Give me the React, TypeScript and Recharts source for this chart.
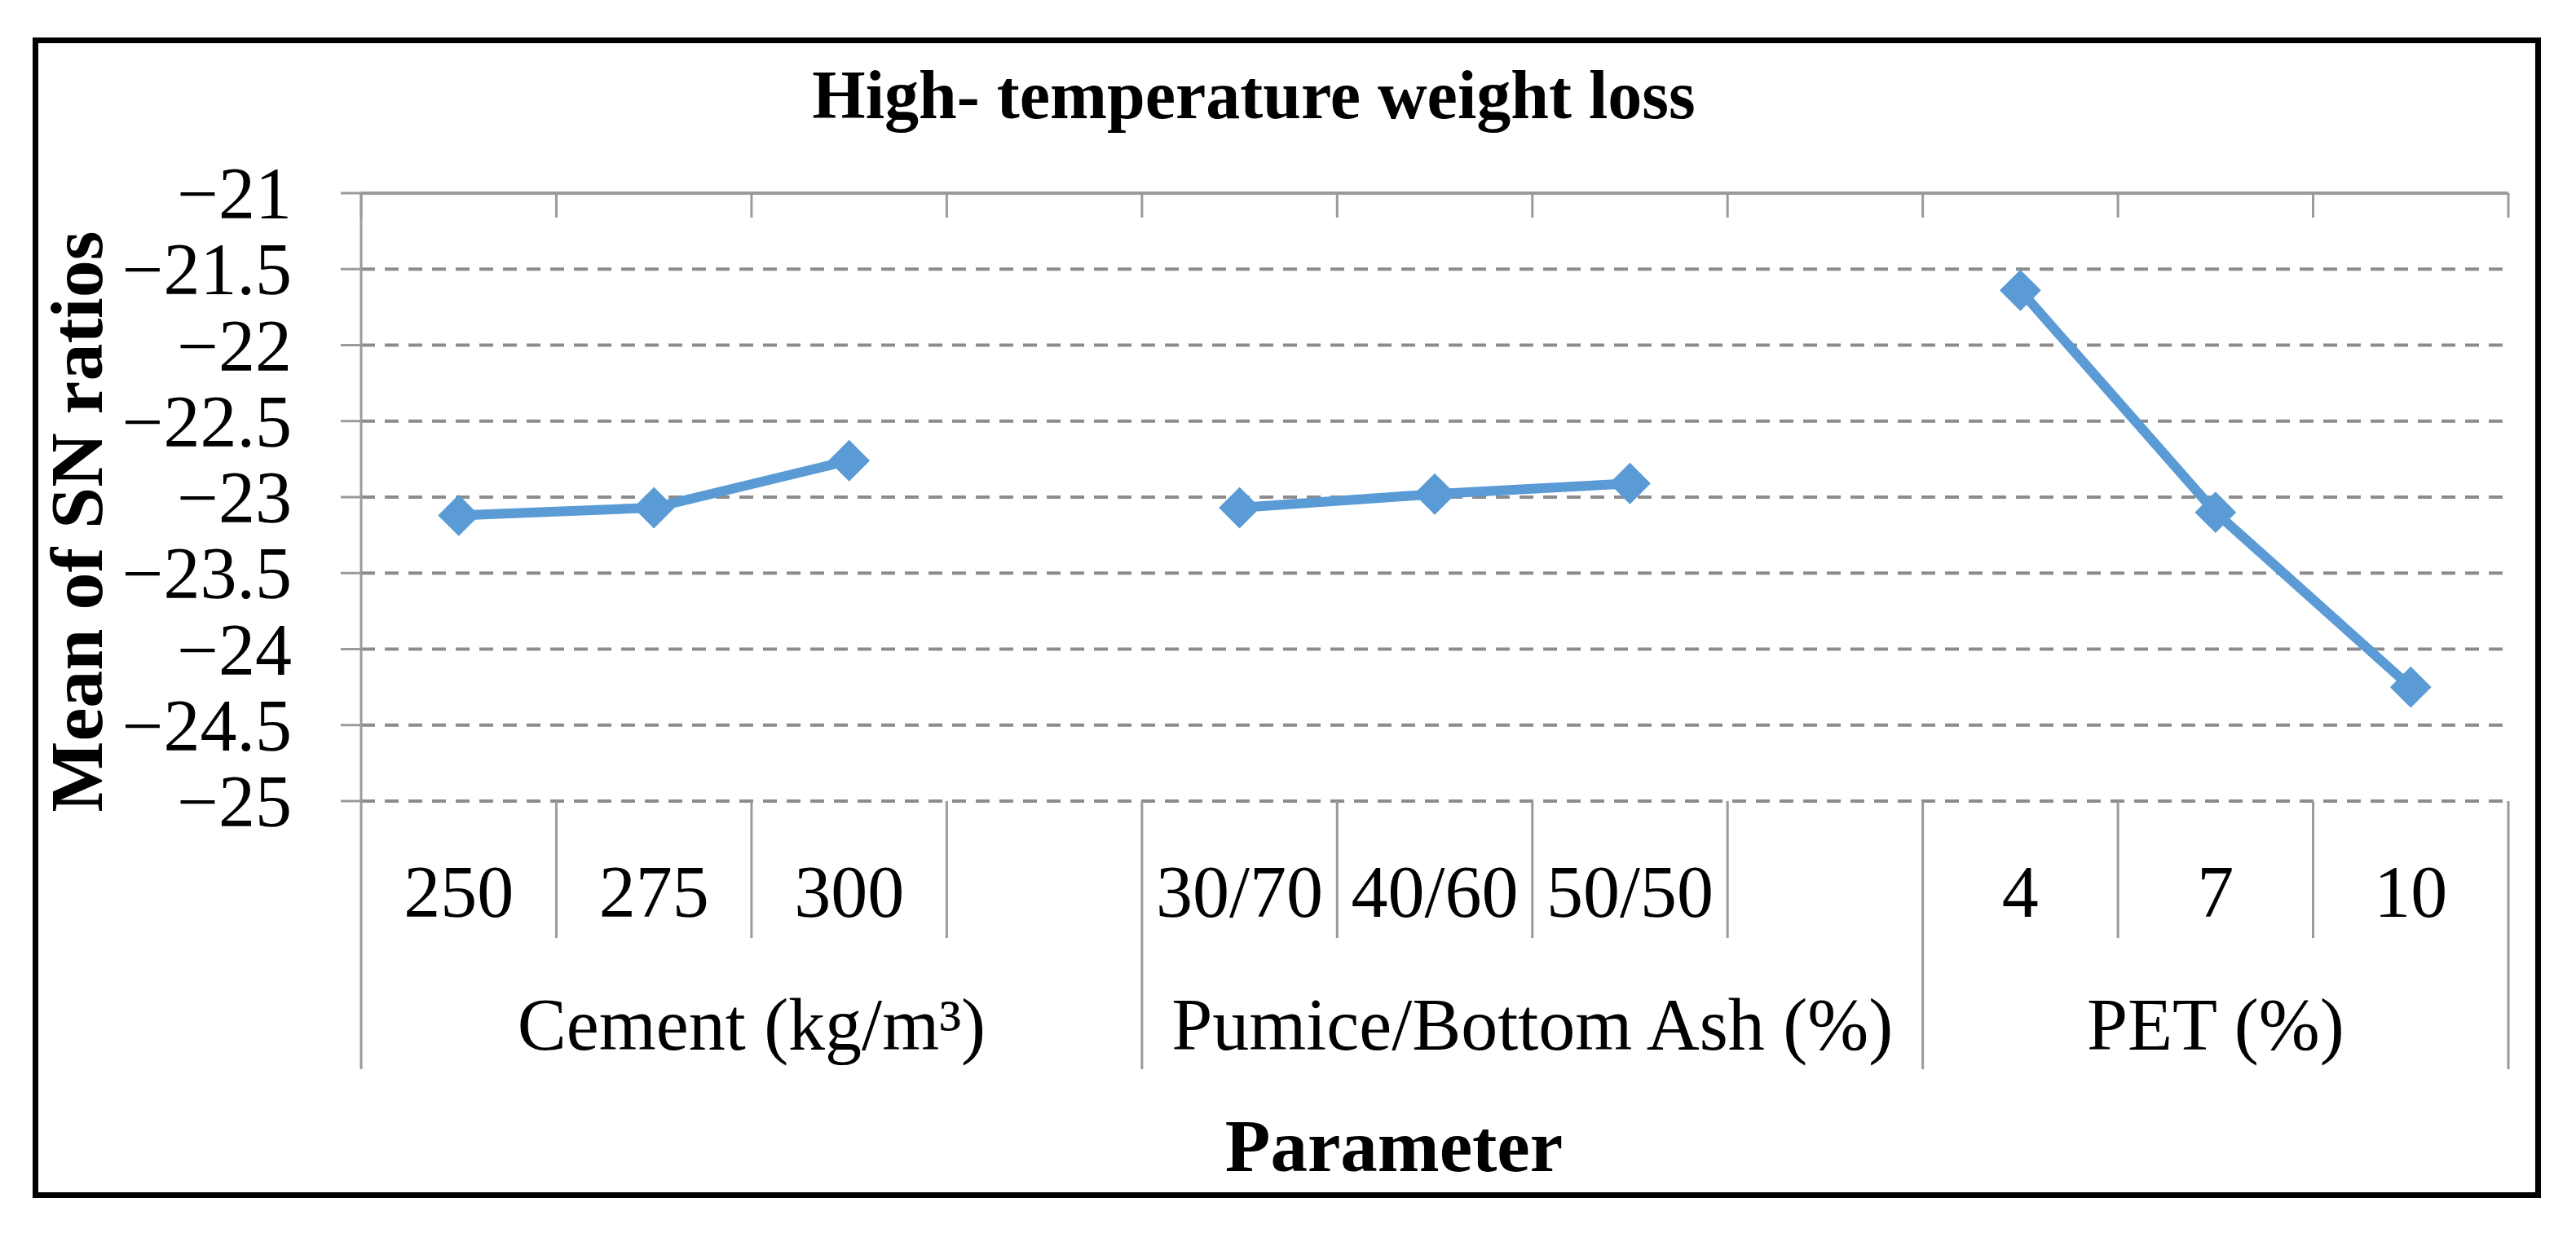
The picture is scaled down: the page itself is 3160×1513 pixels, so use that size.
import React from 'react';
import { LineChart, Line, XAxis, YAxis, CartesianGrid } from 'recharts';

const categories = ['250', '275', '300', '', '30/70', '40/60', '50/50', '', '4', '7', '10'];
const snMeans = [-23.12, -23.07, -22.76, null, -23.07, -22.98, -22.91, null, -21.64, -23.1, -24.25];
const groupNames = ['Cement (kg/m³)', 'Pumice/Bottom Ash (%)', 'PET (%)'];
const groupStarts = [0, 4, 8];
const groupEnds = [4, 8, 11];
const yTicks = [-25, -24.5, -24, -23.5, -23, -22.5, -22, -21.5, -21];

const FONT = '"Liberation Serif", "Times New Roman", serif';
const BLUE = '#5B9BD5';
const GRID = '#8C8C8C';
const AXIS = '#9A9A9A';

const data = categories.map((label, i) => ({ pos: i + 0.5, label, value: snMeans[i] }));
const boundaries = categories.map((_, i) => i).concat(categories.length);
const bottomTicks = boundaries
  .concat(categories.map((_, i) => i + 0.5))
  .sort((a, b) => a - b);

const fmt = (v: number) => (v < 0 ? '\u2212' : '') + Math.abs(v);

const YTick = ({ x, y, payload }: any) => (
  <text x={x} y={y} dy={31} textAnchor="end" fontFamily={FONT} fontSize={90} fill="#000">
    {fmt(payload.value)}
  </text>
);

// short marks hanging down from the top axis line
const TopTick = ({ x, y }: any) => (
  <line x1={x} x2={x} y1={y} y2={y + 30} stroke={AXIS} strokeWidth={3} />
);

const BottomTick = ({ x, y, payload }: any) => {
  const v = payload.value;
  const items: React.ReactNode[] = [];
  if (Number.isInteger(v)) {
    const long = groupStarts.includes(v) || groupEnds.includes(v);
    items.push(
      <line key="sep" x1={x} x2={x} y1={y} y2={y + (long ? 329 : 168)} stroke={AXIS} strokeWidth={3} />
    );
  } else {
    const label = categories[Math.floor(v)];
    if (label) {
      items.push(
        <text key="cat" x={x} y={y + 142} textAnchor="middle" fontFamily={FONT} fontSize={90} fill="#000">
          {label}
        </text>
      );
    }
  }
  const g = groupNames.findIndex((_, i) => (groupStarts[i] + groupEnds[i]) / 2 === v);
  if (g >= 0) {
    items.push(
      <text key="grp" x={x} y={y + 305} textAnchor="middle" fontFamily={FONT} fontSize={90} fill="#000">
        {groupNames[g]}
      </text>
    );
  }
  return <g>{items}</g>;
};

const Diamond = ({ cx, cy, value }: any) => {
  if (value == null || cx == null || cy == null) return null;
  const r = 24;
  return (
    <path
      d={`M${cx},${cy - r} L${cx + r},${cy} L${cx},${cy + r} L${cx - r},${cy} Z`}
      fill={BLUE}
      stroke={BLUE}
      strokeWidth={2}
    />
  );
};

export default function App() {
  return (
    <div style={{ position: 'absolute', left: 0, top: 0, width: 3160, height: 1513, background: '#fff' }}>
      <LineChart
        width={3160}
        height={1513}
        data={data}
        margin={{ top: 207, right: 83, bottom: 230, left: 343 }}
      >
        <CartesianGrid
          xAxisId="bottom"
          vertical={false}
          stroke={GRID}
          strokeWidth={4}
          strokeDasharray="17 12"
        />
        <XAxis
          xAxisId="top"
          orientation="top"
          dataKey="pos"
          type="number"
          domain={[0, categories.length]}
          ticks={boundaries}
          interval={0}
          height={30}
          tickSize={0}
          tickMargin={0}
          tickLine={false}
          tick={<TopTick />}
          axisLine={{ stroke: AXIS, strokeWidth: 4 }}
        />
        <XAxis
          xAxisId="bottom"
          orientation="bottom"
          dataKey="pos"
          type="number"
          domain={[0, categories.length]}
          ticks={bottomTicks}
          interval={0}
          height={300}
          tickSize={0}
          tickMargin={0}
          tickLine={false}
          axisLine={false}
          tick={<BottomTick />}
        />
        <YAxis
          type="number"
          domain={[-25, -21]}
          ticks={yTicks}
          interval={0}
          allowDataOverflow
          width={100}
          tickSize={25}
          tickMargin={60}
          tickLine={{ stroke: AXIS, strokeWidth: 3 }}
          axisLine={{ stroke: AXIS, strokeWidth: 3 }}
          tick={<YTick />}
        />
        <Line
          xAxisId="bottom"
          type="linear"
          dataKey="value"
          stroke={BLUE}
          strokeWidth={12}
          dot={<Diamond />}
          activeDot={false}
          connectNulls={false}
          isAnimationActive={false}
        />
      </LineChart>
      <svg
        width={3160}
        height={1513}
        style={{ position: 'absolute', left: 0, top: 0, pointerEvents: 'none' }}
      >
        <text x={1538} y={145} textAnchor="middle" fontFamily={FONT} fontWeight="bold" fontSize={84} fill="#000">
          High- temperature weight loss
        </text>
        <text
          x={0}
          y={0}
          transform="translate(125,640) rotate(-90)"
          textAnchor="middle"
          fontFamily={FONT}
          fontWeight="bold"
          fontSize={92}
          fill="#000"
        >
          Mean of SN ratios
        </text>
        <text x={1710} y={1437} textAnchor="middle" fontFamily={FONT} fontWeight="bold" fontSize={91} fill="#000">
          Parameter
        </text>
      </svg>
      <div
        style={{
          position: 'absolute',
          left: 40,
          top: 46,
          width: 3077,
          height: 1424,
          border: '7px solid #000',
          boxSizing: 'border-box',
          pointerEvents: 'none',
        }}
      />
    </div>
  );
}
